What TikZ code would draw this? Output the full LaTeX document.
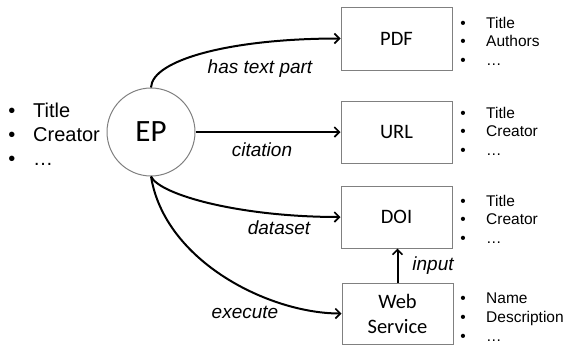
\documentclass[tikz,border=0pt]{standalone}
\usepackage{fontspec}
\setmainfont{Liberation Sans}
\newfontfamily\boxfont{Carlito}
\usetikzlibrary{arrows.meta,shadows}
\definecolor{frame}{HTML}{808080}

\begin{document}
\begin{tikzpicture}[x=1pt,y=-1pt,
  res/.style={draw=frame,line width=1pt,fill=white,inner sep=0pt,
    minimum width=111pt,minimum height=62pt,align=center,
    font=\boxfont\fontsize{20.5}{25}\selectfont,
    drop shadow={shadow xshift=0.6pt,shadow yshift=-1.2pt,opacity=0.3}},
  conn/.style={line width=2pt,-{Straight Barb[length=5pt,width=10pt,line width=1.6pt]}},
  lbl/.style={font=\itshape\fontsize{19}{22}\selectfont,inner sep=0pt},
  bigtxt/.style={font=\fontsize{20}{24}\selectfont,anchor=base west,inner sep=0pt},
  bigdot/.style={font=\fontsize{20}{24}\selectfont,anchor=base,inner sep=0pt},
  smalltxt/.style={font=\fontsize{15.5}{18}\selectfont,anchor=base west,inner sep=0pt},
  smalldot/.style={font=\fontsize{15.5}{18}\selectfont,anchor=base,inner sep=0pt}]
\useasboundingbox (0,0) rectangle (565,346);

% central entity
\node[circle,draw=frame,line width=1pt,minimum size=88pt,inner sep=0pt,
  font=\boxfont\fontsize{31}{31}\selectfont] (ep) at (151,132) {EP};

% resources
\node[res,minimum height=63pt] (pdf) at (396.5,38.5) {PDF};
\node[res] (url) at (396.5,132) {URL};
\node[res] (doi) at (396.5,217) {DOI};
\node[res,minimum height=61pt] (web) at (397.5,313.5) {Web\\Service};

% relations
\draw[conn] (ep.north) .. controls (152,60) and (230,38.5) .. (pdf.west);
\draw[conn] (ep.east) -- (url.west);
\draw[conn] (ep.south) .. controls (160,195) and (240,217) .. (doi.west);
\draw[conn] (ep.south) .. controls (165,262) and (270,313.5) .. (web.west);
\draw[conn] (web.north) -- (web.north |- doi.south);

\node[lbl] (has) at (260,69) {has text part};
\node[lbl] (cit) at (262,150) {citation};
\node[lbl] (dat) at (279,228) {dataset};
\node[lbl] (exe) at (245,312) {execute};
\node[lbl] (inp) at (433,266) {input};

% attributes of EP
\node[bigdot] (ea) at (12,117) {\textbullet};
\node[bigdot] (eb) at (12,141) {\textbullet};
\node[bigdot] (ec) at (12,165) {\textbullet};
\node[bigtxt] (ta) at (33,117) {Title};
\node[bigtxt] (tb) at (33,141) {Creator};
\node[bigtxt] (tc) at (33,165) {\dots};

% attributes of PDF
\node[smalldot] (pa) at (463,28) {\textbullet};
\node[smalldot] (pb) at (463,46) {\textbullet};
\node[smalldot] (pc) at (463,65) {\textbullet};
\node[smalltxt] (qa) at (486,28) {Title};
\node[smalltxt] (qb) at (486,46) {Authors};
\node[smalltxt] (qc) at (486,65) {\dots};

% attributes of URL
\node[smalldot] (ua) at (463,118) {\textbullet};
\node[smalldot] (ub) at (463,136) {\textbullet};
\node[smalldot] (uc) at (463,155) {\textbullet};
\node[smalltxt] (va) at (486,118) {Title};
\node[smalltxt] (vb) at (486,136) {Creator};
\node[smalltxt] (vc) at (486,155) {\dots};

% attributes of DOI
\node[smalldot] (da) at (463,206) {\textbullet};
\node[smalldot] (db) at (463,224) {\textbullet};
\node[smalldot] (dc) at (463,243) {\textbullet};
\node[smalltxt] (fa) at (486,206) {Title};
\node[smalltxt] (fb) at (486,224) {Creator};
\node[smalltxt] (fc) at (486,243) {\dots};

% attributes of the web service
\node[smalldot] (wa) at (463,303) {\textbullet};
\node[smalldot] (wb) at (463,322) {\textbullet};
\node[smalldot] (wc) at (463,341) {\textbullet};
\node[smalltxt] (xa) at (486,303) {Name};
\node[smalltxt] (xb) at (486,322) {Description};
\node[smalltxt] (xc) at (486,341) {\dots};
\end{tikzpicture}
\end{document}
